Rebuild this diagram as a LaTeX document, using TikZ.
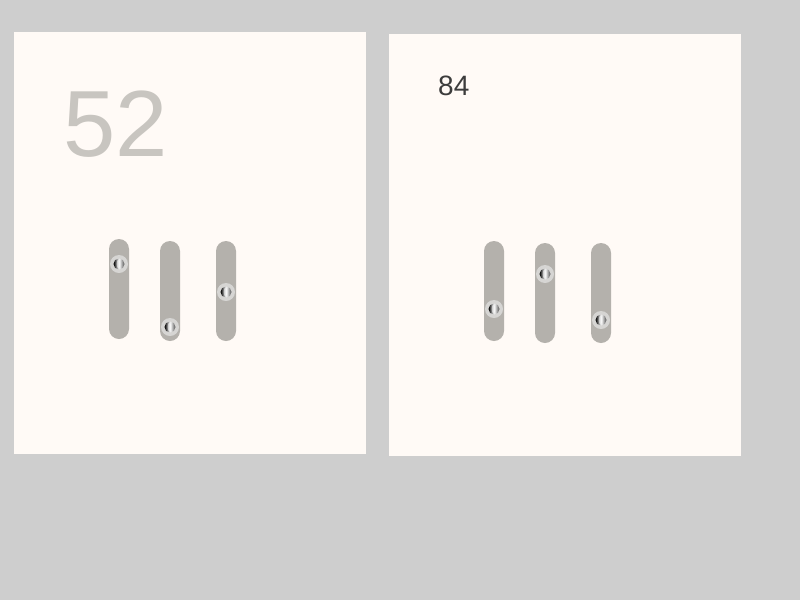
\documentclass[tikz,border=0pt]{standalone}
\usepackage{fontspec}
\setmainfont{Liberation Sans}
\begin{document}
\begin{tikzpicture}[x=1pt,y=-1pt,
  panel/.style={fill=panelc,draw=none},
  track/.style={fill=trackc,draw=none,rounded corners=10pt},
  knobouter/.style={fill=knobc,draw=none},
]
\definecolor{bgc}{HTML}{CECECE}
\definecolor{panelc}{HTML}{FFFAF6}
\definecolor{trackc}{HTML}{B4B1AC}
\definecolor{knobc}{HTML}{D6D5D3}
\definecolor{bignum}{HTML}{C8C5C0}
\definecolor{smallnum}{HTML}{3C3C3C}
\useasboundingbox (0,0) rectangle (800,600);
\fill[bgc] (0,0) rectangle (800,600);
% panels
\fill[panel] (14,32) rectangle (366,454);
\fill[panel] (389,34) rectangle (741,456);
% numbers
\node[anchor=south west,inner sep=0pt,text=bignum,font=\fontsize{94}{94}\selectfont] (n52) at (63,158) {52};
\node[anchor=south west,inner sep=0pt,text=smallnum,font=\fontsize{28}{28}\selectfont] (n84) at (438,96) {84};
% sliders
\newcommand\myslider[4]{%
  \fill[track] (#1-10,#2) rectangle (#1+10,#3);
  \fill[knobouter] (#1,#4) circle (9);
  \shade[left color=black,right color=black!70,middle color=white] (#1,#4) circle (5.5);
  \fill[white,opacity=0.5] (#1-0.5,#4) ellipse (1.8 and 4.5);
}
\myslider{119}{239}{339}{264}
\myslider{170}{241}{341}{327}
\myslider{226}{241}{341}{292}
\myslider{494}{241}{341}{309}
\myslider{545}{243}{343}{274}
\myslider{601}{243}{343}{320}
\end{tikzpicture}
\end{document}
